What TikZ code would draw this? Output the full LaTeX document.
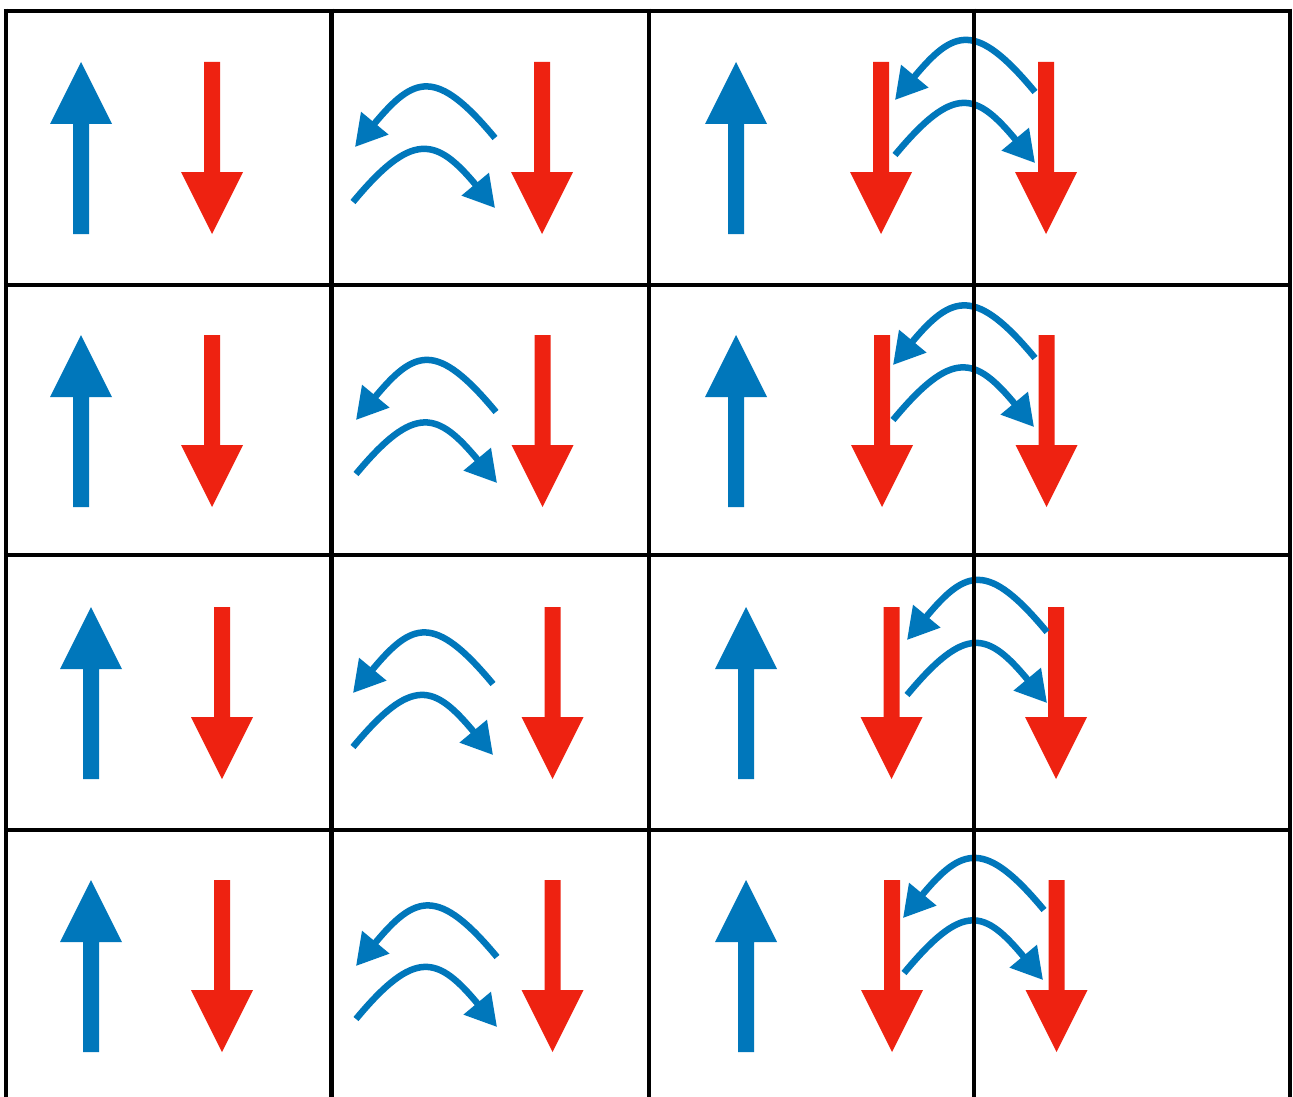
\documentclass[tikz,border=0pt]{standalone}
\usetikzlibrary{arrows.meta}
\definecolor{spinblue}{RGB}{0,119,187}
\definecolor{spinred}{RGB}{238,34,17}
\tikzset{
  gridline/.style={black,line width=4.5pt},
  hop/.style={spinblue,line width=6.5pt,-{Triangle[length=31pt,width=34pt]}},
  spinup/.pic={\fill[spinblue] (-8,0) -- (-8,-110) -- (-31,-110) -- (0,-172) -- (31,-110) -- (8,-110) -- (8,0) -- cycle;},
  spindown/.pic={\fill[spinred] (-8,0) -- (-8,110) -- (-31,110) -- (0,172) -- (31,110) -- (8,110) -- (8,0) -- cycle;}
}
\begin{document}
\begin{tikzpicture}[x=1pt,y=-1pt]
\useasboundingbox (0,0) rectangle (1293,1097);
\fill[white] (0,0) rectangle (1293,1097);
% row 1
\pic at (81,234) {spinup};
\pic at (212,62) {spindown};
\pic at (542,62) {spindown};
\pic at (736,234) {spinup};
\pic at (881,62) {spindown};
\pic at (1046,62) {spindown};
% row 2
\pic at (81,507) {spinup};
\pic at (212,335) {spindown};
\pic at (542.5,335) {spindown};
\pic at (736,507) {spinup};
\pic at (882,335) {spindown};
\pic at (1046.5,335) {spindown};
% row 3
\pic at (91,779) {spinup};
\pic at (222,607) {spindown};
\pic at (552.5,607) {spindown};
\pic at (746,779) {spinup};
\pic at (891.5,607) {spindown};
\pic at (1056,607) {spindown};
% row 4
\pic at (91,1052) {spinup};
\pic at (222,880) {spindown};
\pic at (552.5,880) {spindown};
\pic at (746,1052) {spinup};
\pic at (892,880) {spindown};
\pic at (1056.5,880) {spindown};
% hopping arrows, column 2
\draw[hop] (495,138) .. controls +(-59,-71) and +(59,-71) .. (355,147);
\draw[hop] (353,202) .. controls +(59,-71) and +(-59,-71) .. (495,208);
\draw[hop] (496,412) .. controls +(-59,-71) and +(59,-71) .. (356,420);
\draw[hop] (356,474) .. controls +(59,-71) and +(-59,-71) .. (497,483);
\draw[hop] (493,684) .. controls +(-59,-71) and +(59,-71) .. (353,693);
\draw[hop] (353,747) .. controls +(59,-71) and +(-59,-71) .. (493,755);
\draw[hop] (497,957) .. controls +(-59,-71) and +(59,-71) .. (356,966);
\draw[hop] (356,1019) .. controls +(59,-71) and +(-59,-71) .. (497,1027);
% hopping arrows, columns 3-4
\draw[hop] (1035,92) .. controls +(-59,-71) and +(59,-71) .. (895,100);
\draw[hop] (895,155) .. controls +(59,-71) and +(-59,-71) .. (1035,163);
\draw[hop] (1035,358) .. controls +(-59,-71) and +(59,-71) .. (893,365);
\draw[hop] (893,420) .. controls +(59,-71) and +(-59,-71) .. (1034,427);
\draw[hop] (1047,632) .. controls +(-59,-71) and +(59,-71) .. (907,640);
\draw[hop] (907,695) .. controls +(59,-71) and +(-59,-71) .. (1047,703);
\draw[hop] (1044,910) .. controls +(-59,-71) and +(59,-71) .. (903,918);
\draw[hop] (904,973) .. controls +(59,-71) and +(-59,-71) .. (1043,980);
% grid
\foreach \yy in {11,285,555,830} \draw[gridline] (3.75,\yy) -- (1292.25,\yy);
\foreach \xx in {6,331.5,649,974,1290} \draw[gridline] (\xx,8.75) -- (\xx,1097);
\end{tikzpicture}
\end{document}
